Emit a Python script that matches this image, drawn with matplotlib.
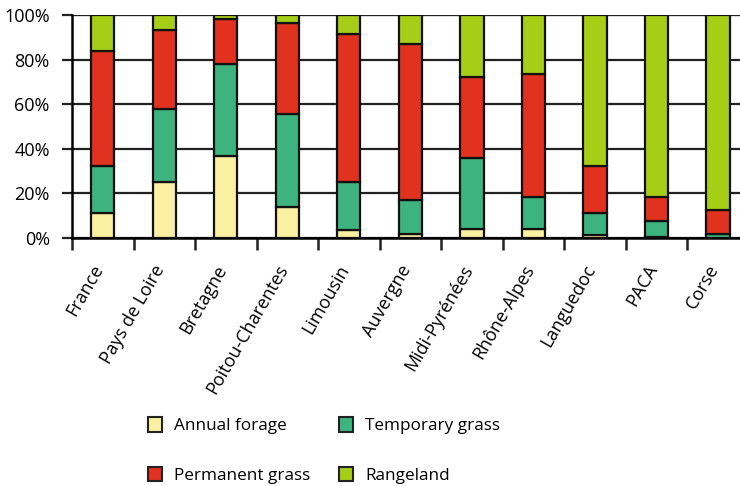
import numpy as np
import matplotlib.pyplot as plt
import matplotlib.transforms as mtransforms
from matplotlib.patches import Patch
from matplotlib.ticker import FixedLocator

plt.rcParams['font.family'] = ['Open Sans', 'DejaVu Sans']

regioes = ['France', 'Pays de Loire', 'Bretagne', 'Poitou-Charentes', 'Limousin',
           'Auvergne', 'Midi-Pyrénées', 'Rhône-Alpes', 'Languedoc', 'PACA', 'Corse']

# parts en %
fourrage_annuel = [11.0, 25.2, 36.9, 13.7, 3.6, 2.0, 4.2, 4.2, 1.2, 0.5, 0.0]
prairie_temp = [21.4, 32.6, 41.0, 42.1, 21.6, 15.0, 31.5, 14.3, 10.1, 7.3, 1.9]
prairie_perm = [51.5, 35.3, 20.1, 40.8, 66.4, 70.2, 36.5, 55.2, 21.1, 10.7, 10.6]
parcours = [16.1, 6.9, 2.0, 3.4, 8.4, 12.8, 27.8, 26.3, 67.6, 81.5, 87.5]

series = [fourrage_annuel, prairie_temp, prairie_perm, parcours]
nomes = ['Annual forage', 'Temporary grass', 'Permanent grass', 'Rangeland']
cores = ['#FBF0A2', '#3DB47F', '#E0321F', '#A7CE17']

fig = plt.figure(figsize=(7.4, 4.86), dpi=100)
ax = fig.add_axes([72 / 740, 1 - 238 / 486, 668 / 740, 223 / 486])

x = np.arange(len(regioes))
base = np.zeros(len(regioes))
for valores, cor in zip(series, cores):
    ax.bar(x, valores, 0.38, bottom=base, color=cor, edgecolor='#111111',
           linewidth=1.6, zorder=3)
    base += np.array(valores)

ax.set_xlim(-0.5, 10.36)
ax.set_ylim(0, 100)
ax.set_yticks([0, 20, 40, 60, 80, 100])
ax.set_yticklabels(['0%', '20%', '40%', '60%', '80%', '100%'], fontsize=13)
ax.yaxis.grid(True, color='#222222', linewidth=1.6, zorder=0)
ax.tick_params(axis='y', length=7, width=1.6, pad=9, color='#222222')

ax.set_xticks(x)
ax.set_xticklabels(regioes, rotation=60, ha='right', rotation_mode='anchor', fontsize=13)
ax.tick_params(axis='x', which='major', length=0, pad=17)
ax.xaxis.set_minor_locator(FixedLocator(np.arange(-0.5, 11, 1)))
ax.tick_params(axis='x', which='minor', length=8.5, width=1.8, color='#222222')

# desloca os rotulos um pouco para a esquerda
desloc = mtransforms.ScaledTranslation(-11 / 100, 0, fig.dpi_scale_trans)
for lbl in ax.get_xticklabels():
    lbl.set_transform(lbl.get_transform() + desloc)

for lado in ['top', 'right']:
    ax.spines[lado].set_visible(False)
ax.spines['left'].set_linewidth(1.8)
ax.spines['bottom'].set_linewidth(1.8)
ax.axhline(100, color='#999999', linewidth=1.6, zorder=1)

# ordem para preencher por linhas
ordem = [0, 2, 1, 3]
handles = [Patch(facecolor=cores[i], edgecolor='#222222', linewidth=1.5) for i in ordem]
rotulos = [nomes[i] for i in ordem]
fig.legend(handles, rotulos, loc='upper left', bbox_to_anchor=(133 / 740, 1 - 402 / 486),
           ncol=2, frameon=False, fontsize=12.3, handlelength=0.8, handleheight=0.9,
           labelspacing=1.9, columnspacing=1.7, handletextpad=0.7)

fig.savefig('out.png', dpi=100)
